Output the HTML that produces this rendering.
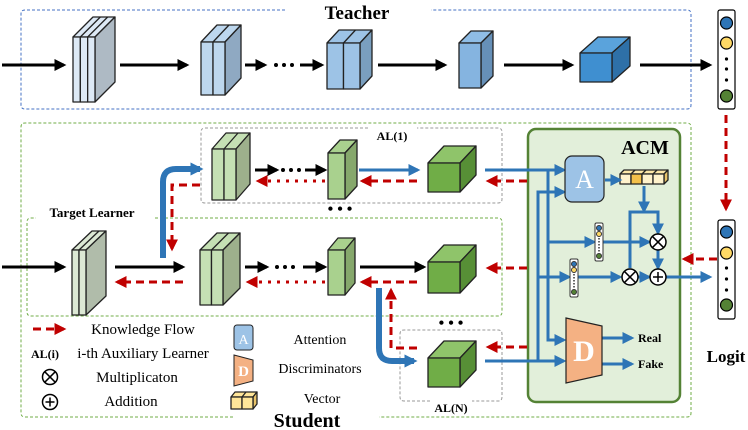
<!DOCTYPE html>
<html><head><meta charset="utf-8"><style>
html,body{margin:0;padding:0;background:#fff;}
svg{display:block;}
text{font-family:"Liberation Serif",serif;}
</style></head><body>
<svg id="s" width="748" height="430" viewBox="0 0 748 430" xmlns="http://www.w3.org/2000/svg">
<defs>
<marker id="mk" markerWidth="4" markerHeight="4" refX="3.2" refY="2" orient="auto" markerUnits="strokeWidth"><path d="M0,0 L4,2 L0,4 z" fill="#000"/></marker>
<marker id="mb" markerWidth="4" markerHeight="4" refX="3.2" refY="2" orient="auto" markerUnits="strokeWidth"><path d="M0,0 L4,2 L0,4 z" fill="#2e75b6"/></marker>
<marker id="mr" markerWidth="4" markerHeight="4" refX="3.2" refY="2" orient="auto" markerUnits="strokeWidth"><path d="M0,0 L4,2 L0,4 z" fill="#c00000"/></marker>
<marker id="mb2" markerWidth="2.2" markerHeight="2.2" refX="1.6" refY="1.1" orient="auto" markerUnits="strokeWidth"><path d="M0,0 L2.2,1.1 L0,2.2 z" fill="#2e75b6"/></marker>
</defs>

<path d="M285,10 H25 Q21,10 21,14 V105 Q21,109 25,109 H687 Q691,109 691,105 V14 Q691,10 687,10 H431" fill="none" stroke="#4472c4" stroke-width="1" stroke-dasharray="3 2"/>
<text x="357" y="19" font-size="19" font-weight="bold" text-anchor="middle">Teacher</text>

<path d="M233,417 H25 Q21,417 21,413 V127 Q21,123 25,123 H687 Q691,123 691,127 V413 Q691,417 687,417 H379" fill="none" stroke="#70ad47" stroke-width="1" stroke-dasharray="3 2"/>
<text x="307" y="427" font-size="20" font-weight="bold" text-anchor="middle">Student</text>

<path d="M155,218 H498 Q502,218 502,222 V312 Q502,316 498,316 H31 Q27,316 27,312 V222 Q27,218 31,218 H36" fill="none" stroke="#70ad47" stroke-width="1" stroke-dasharray="3 2"/>
<text x="92" y="217" font-size="13" font-weight="bold" text-anchor="middle">Target Learner</text>

<path d="M368,128 H205 Q201,128 201,132 V199 Q201,203 205,203 H498 Q502,203 502,199 V132 Q502,128 498,128 H417" fill="none" stroke="#999" stroke-width="1" stroke-dasharray="3 2"/>
<text x="392" y="140" font-size="12" font-weight="bold" text-anchor="middle">AL(1)</text>
<path d="M430,401 H404 Q400,401 400,397 V334 Q400,330 404,330 H498 Q502,330 502,334 V397 Q502,401 498,401 H472" fill="none" stroke="#999" stroke-width="1" stroke-dasharray="3 2"/>
<text x="451" y="412" font-size="12" font-weight="bold" text-anchor="middle">AL(N)</text>
<text x="340" y="214" font-size="16" font-weight="bold" text-anchor="middle">• • •</text>
<text x="451" y="328" font-size="16" font-weight="bold" text-anchor="middle">• • •</text>

<rect x="528" y="129" width="152" height="273" rx="8" fill="#e2efda" stroke="#548235" stroke-width="2.5"/>
<text x="645" y="154" font-size="20" font-weight="bold" text-anchor="middle">ACM</text>

<g id="boxes"></g>

<g stroke="#000" stroke-width="3" fill="none" marker-end="url(#mk)">
<line x1="2" y1="65" x2="64" y2="65"/>
<line x1="120" y1="65" x2="187" y2="65"/>
<line x1="245" y1="65" x2="265" y2="65"/>
<line x1="300" y1="65" x2="322" y2="65"/>
<line x1="378" y1="65" x2="445" y2="65"/>
<line x1="504" y1="65" x2="572" y2="65"/>
<line x1="640" y1="65" x2="710" y2="65"/>
<line x1="2" y1="267" x2="64" y2="267"/>
<line x1="115" y1="267" x2="183" y2="267"/>
<line x1="245" y1="267" x2="267" y2="267"/>
<line x1="303" y1="267" x2="325" y2="267"/>
<line x1="360" y1="267" x2="424" y2="267"/>
<line x1="255" y1="170" x2="277" y2="170"/>
<line x1="305" y1="170" x2="325" y2="170"/>
</g>
<g fill="#000"><circle cx="276" cy="65" r="2"/><circle cx="284" cy="65" r="2"/><circle cx="292" cy="65" r="2"/>
<circle cx="277" cy="267" r="2"/><circle cx="285" cy="267" r="2"/><circle cx="293" cy="267" r="2"/>
<circle cx="283" cy="170" r="2"/><circle cx="291" cy="170" r="2"/><circle cx="299" cy="170" r="2"/></g>

<g stroke="#000" stroke-width="1.2">
<rect x="718" y="10" width="17" height="99" rx="2" fill="#fff"/>
<circle cx="726.5" cy="23" r="6" fill="#2e75b6"/><circle cx="726.5" cy="43" r="6" fill="#ffd966"/><circle cx="726.5" cy="96" r="6" fill="#548235"/>
<rect x="718" y="220" width="17" height="99" rx="2" fill="#fff"/>
<circle cx="726.5" cy="232" r="6" fill="#2e75b6"/><circle cx="726.5" cy="253" r="6" fill="#ffd966"/><circle cx="726.5" cy="305" r="6" fill="#548235"/>
</g>
<g fill="#000"><circle cx="726.5" cy="59" r="1.6"/><circle cx="726.5" cy="69" r="1.6"/><circle cx="726.5" cy="80" r="1.6"/>
<circle cx="726.5" cy="268" r="1.6"/><circle cx="726.5" cy="279" r="1.6"/><circle cx="726.5" cy="290" r="1.6"/></g>
<text x="726" y="362" font-size="17" font-weight="bold" text-anchor="middle">Logit</text>

<g stroke="#c00000" stroke-width="3" fill="none" stroke-dasharray="8 5" marker-end="url(#mr)">
<line x1="726" y1="115" x2="726" y2="209"/>
<line x1="717" y1="259" x2="684" y2="259"/>
<line x1="183" y1="282" x2="117" y2="282"/>
<line x1="417" y1="282" x2="362" y2="282"/>
<line x1="527" y1="268" x2="488" y2="268"/>
<line x1="417" y1="181" x2="362" y2="181"/>
<line x1="527" y1="181" x2="488" y2="181"/>
<line x1="527" y1="347" x2="488" y2="347"/>
<path d="M200,185 H172 V249"/>
<path d="M417,348 H391 V290"/>
<line x1="33" y1="329" x2="64" y2="329"/>
</g>
<g stroke="#c00000" stroke-width="3" fill="none" stroke-dasharray="3 6" marker-end="url(#mr)">
<line x1="325" y1="181" x2="258" y2="181"/>
<line x1="325" y1="282" x2="248" y2="282"/>
</g>

<g stroke="#2e75b6" stroke-width="6" fill="none" marker-end="url(#mb2)">
<path d="M163,258 V182 Q163,169 176,169 H200"/>
<path d="M379,288 V348 Q379,361 392,361 H414"/>
</g>
<g stroke="#2e75b6" stroke-width="3" fill="none">
<line x1="359" y1="170" x2="418" y2="170" marker-end="url(#mb)"/>
<line x1="485" y1="170" x2="564" y2="170" marker-end="url(#mb)"/>
<line x1="485" y1="361" x2="564" y2="361" marker-end="url(#mb)"/>
<path d="M548,170 V340 H564" marker-end="url(#mb)"/>
<path d="M538,361 V192 H564" marker-end="url(#mb)"/>
<line x1="548" y1="242" x2="594" y2="242" marker-end="url(#mb)"/>
<line x1="538" y1="277" x2="569" y2="277" marker-end="url(#mb)"/>
<line x1="603" y1="242" x2="649" y2="242" marker-end="url(#mb)"/>
<line x1="578" y1="277" x2="620" y2="277" marker-end="url(#mb)"/>
<line x1="605" y1="180" x2="620" y2="180" marker-end="url(#mb)"/>
<line x1="644" y1="186" x2="644" y2="211" marker-end="url(#mb)"/>
<path d="M630,268 V212 H658 V233" marker-end="url(#mb)"/>
<line x1="658" y1="250" x2="658" y2="268" marker-end="url(#mb)"/>
<line x1="638" y1="277" x2="649" y2="277" marker-end="url(#mb)"/>
<line x1="666" y1="277" x2="710" y2="277" marker-end="url(#mb)"/>
<line x1="602" y1="338" x2="632" y2="338" marker-end="url(#mb)"/>
<line x1="602" y1="364" x2="632" y2="364" marker-end="url(#mb)"/>
</g>

<rect x="565" y="156" width="39" height="46" rx="7" fill="#9dc3e6" stroke="#222" stroke-width="1.2"/>
<text x="584.5" y="188" font-size="26" fill="#fff" text-anchor="middle">A</text>
<polygon points="566,318 602,326 602,375 566,383" fill="#f4b183" stroke="#222" stroke-width="1.2"/>
<text x="584" y="361" font-size="30" font-weight="bold" fill="#fff" text-anchor="middle">D</text>
<text x="638" y="342" font-size="12" font-weight="bold">Real</text>
<text x="638" y="368" font-size="12" font-weight="bold">Fake</text>

<g stroke="#333" stroke-width="1">
<rect x="595" y="223" width="8" height="38" rx="1.5" fill="#fff"/>
<circle cx="599" cy="228" r="2.5" fill="#2e75b6"/><circle cx="599" cy="234" r="2.5" fill="#ffd966"/><circle cx="599" cy="256" r="2.5" fill="#548235"/>
<rect x="570" y="259" width="8" height="38" rx="1.5" fill="#fff"/>
<circle cx="574" cy="264" r="2.5" fill="#2e75b6"/><circle cx="574" cy="270" r="2.5" fill="#ffd966"/><circle cx="574" cy="292" r="2.5" fill="#548235"/>
</g>
<g stroke="#333" stroke-width="1.5" stroke-dasharray="1.5 1.5"><line x1="599" y1="238" x2="599" y2="252"/><line x1="574" y1="274" x2="574" y2="288"/></g>

<g stroke="#000" stroke-width="1.5" fill="#fff">
<circle cx="658" cy="242" r="8"/><circle cx="630" cy="277" r="8"/><circle cx="658" cy="277" r="8"/>
<circle cx="50" cy="377" r="7.5"/><circle cx="50" cy="402" r="7.5"/>
</g>
<g stroke="#000" stroke-width="1.5">
<path d="M652.3,236.3 L663.7,247.7 M663.7,236.3 L652.3,247.7"/>
<path d="M624.3,271.3 L635.7,282.7 M635.7,271.3 L624.3,282.7"/>
<path d="M653,277 H663 M658,272 V282"/>
<path d="M44.7,371.7 L55.3,382.3 M55.3,371.7 L44.7,382.3"/>
<path d="M45.5,402 H54.5 M50,397.5 V406.5"/>
</g>

<g font-size="15">
<text x="143" y="334" text-anchor="middle">Knowledge Flow</text>
<text x="45" y="358" font-size="12" font-weight="bold" text-anchor="middle">AL(i)</text>
<text x="143" y="358" text-anchor="middle">i-th Auxiliary Learner</text>
<text x="137" y="382" text-anchor="middle">Multiplicaton</text>
<text x="131" y="406" text-anchor="middle">Addition</text>
<text x="320" y="344" font-size="14" text-anchor="middle">Attention</text>
<text x="320" y="373" font-size="14" text-anchor="middle">Discriminators</text>
<text x="322" y="403" font-size="14" text-anchor="middle">Vector</text>
</g>
<rect x="234" y="325" width="19" height="25" rx="3" fill="#9dc3e6" stroke="#222"/>
<text x="243.5" y="344" font-size="14" fill="#fff" text-anchor="middle">A</text>
<polygon points="234,355 253,360 253,381 234,386" fill="#f4b183" stroke="#222"/>
<text x="243.5" y="376" font-size="15" font-weight="bold" fill="#fff" text-anchor="middle">D</text>
</svg>
<script>
(function(){
var g=document.getElementById('boxes');var ns='http://www.w3.org/2000/svg';
function P(pts,f){var p=document.createElementNS(ns,'polygon');p.setAttribute('points',pts);p.setAttribute('fill',f);p.setAttribute('stroke','#222');p.setAttribute('stroke-width','1.3');p.setAttribute('stroke-linejoin','round');g.appendChild(p);}
function B(x,y,w,h,dx,dy,n,fr,tp,sd){
P(x+','+y+' '+(x+dx)+','+(y-dy)+' '+(x+w+dx)+','+(y-dy)+' '+(x+w)+','+y,tp);
P((x+w)+','+y+' '+(x+w+dx)+','+(y-dy)+' '+(x+w+dx)+','+(y+h-dy)+' '+(x+w)+','+(y+h),sd);
for(var i=0;i<n;i++){var sx=x+w*i/n,sw=w/n;P(sx+','+y+' '+(sx+sw)+','+y+' '+(sx+sw)+','+(y+h)+' '+sx+','+(y+h),fr);
if(i>0){var l=document.createElementNS(ns,'line');l.setAttribute('x1',sx);l.setAttribute('y1',y);l.setAttribute('x2',sx+dx);l.setAttribute('y2',y-dy);l.setAttribute('stroke','#222');l.setAttribute('stroke-width','1.3');g.appendChild(l);}}
}
B(73,37,22,65,20,20,3,'#dde9f5','#dde9f5','#aebac4');
B(201,42,24,53,16,17,2,'#bdd7ee','#bdd7ee','#8fa9c2');
B(327,43,33,46,12,13,2,'#9dc3e6','#9dc3e6','#7a9fbf');
B(459,43,22,45,12,12,1,'#85b4e0','#8fbde6','#6690b8');
B(580,53,32,29,18,16,1,'#3f8fd0','#5aa3dc','#2e70a8');
B(72,250,14,65,20,19,2,'#dce8d4','#dce8d4','#b0bcaa');
B(200,250,23,55,17,17,2,'#c5e0b4','#c5e0b4','#9db08c');
B(328,250,17,45,10,12,1,'#a9d18e','#a9d18e','#86a86c');
B(428,262,32,31,16,17,1,'#70ad47','#8fc46a','#578f36');
B(212,149,24,51,14,16,2,'#c5e0b4','#c5e0b4','#9db08c');
B(328,153,17,46,12,13,1,'#a9d18e','#a9d18e','#86a86c');
B(428,163,32,29,16,17,1,'#70ad47','#8fc46a','#578f36');
B(428,358,32,29,16,17,1,'#70ad47','#8fc46a','#578f36');
B(620,174,44,10,4,4,4,'#fff2cc','#fde7a8','#e9c46a');
B(231,397,22,12,4,5,2,'#ffe699','#ffe699','#e9c46a');
})();
</script>
<script>
(function(){var ps=document.querySelectorAll('#boxes polygon');ps.forEach(function(p){if(p.getAttribute('points').indexOf('631,174')===0){p.setAttribute('fill','#f4c04a');}});})();
</script>
</body></html>
